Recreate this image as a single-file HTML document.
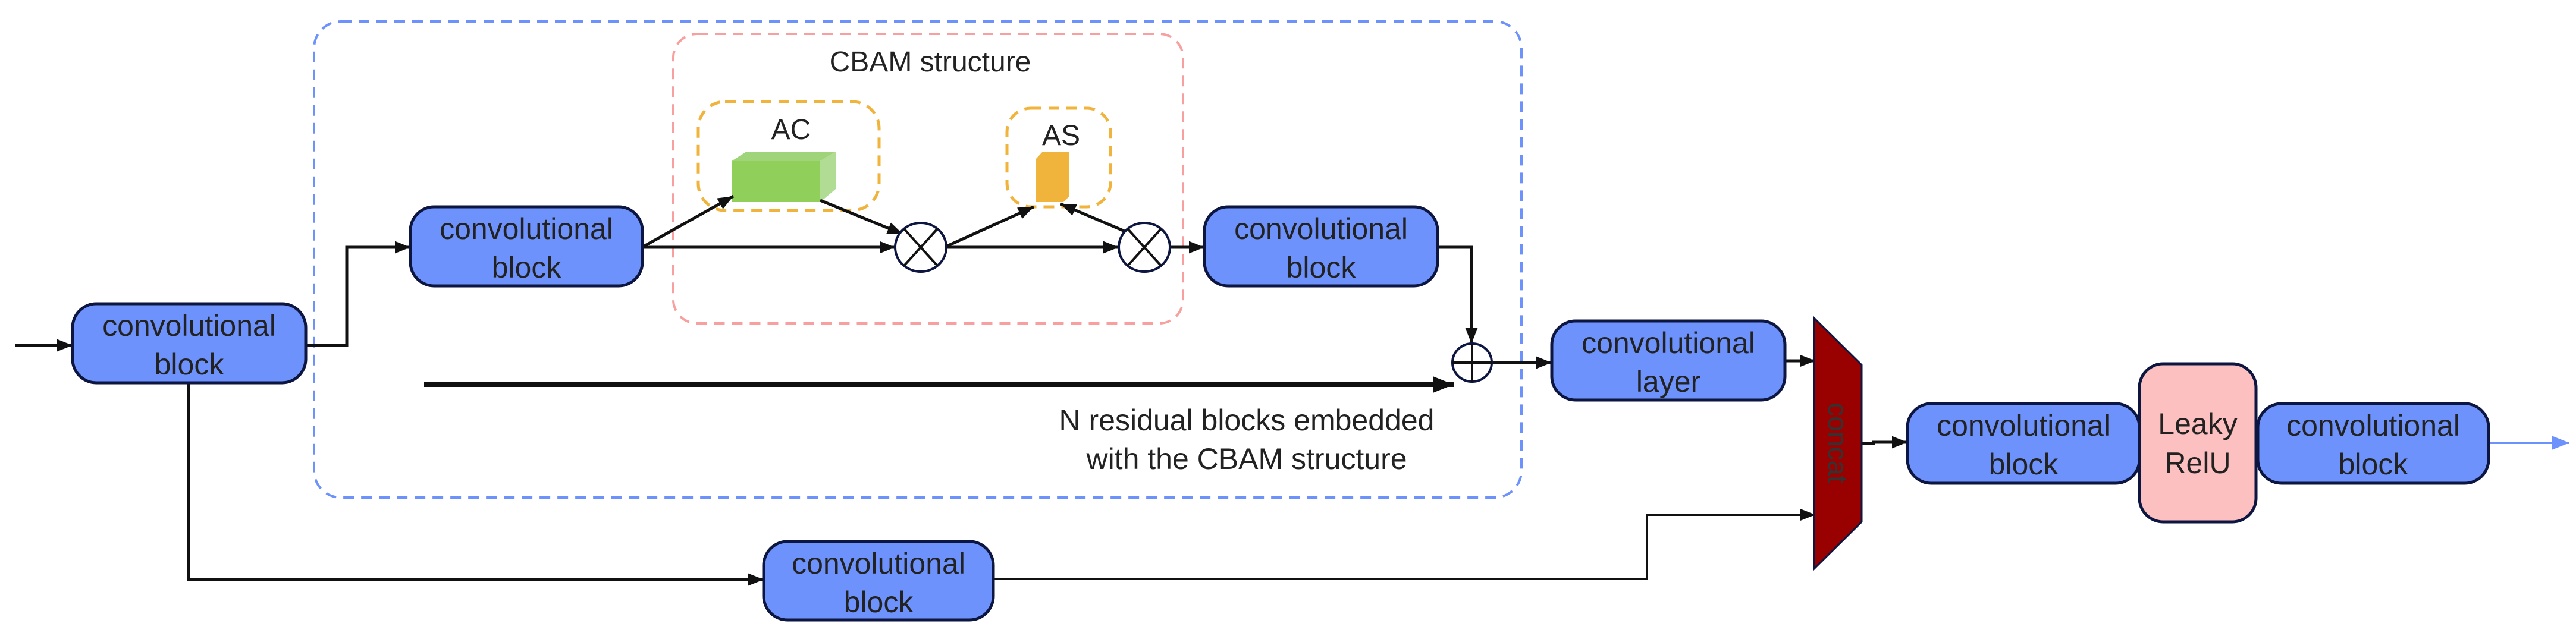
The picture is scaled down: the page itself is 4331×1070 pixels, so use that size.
<!DOCTYPE html>
<html><head><meta charset="utf-8"><style>
html,body{margin:0;padding:0;background:#fff}
svg{display:block}
text{font-family:"Liberation Sans",sans-serif;fill:#222}
</style></head><body>
<svg width="4331" height="1070" viewBox="0 0 4331 1070" xmlns="http://www.w3.org/2000/svg">
<defs>
<marker id="a" viewBox="0 0 10 10" refX="10" refY="5" markerWidth="26" markerHeight="26" markerUnits="userSpaceOnUse" orient="auto"><path d="M0,1 L10,5 L0,9 z" fill="#111"/></marker>
<marker id="ab" viewBox="0 0 10 10" refX="10" refY="5" markerWidth="34" markerHeight="34" markerUnits="userSpaceOnUse" orient="auto"><path d="M0,1 L10,5 L0,9 z" fill="#111"/></marker>
<marker id="ablue" viewBox="0 0 10 10" refX="10" refY="5" markerWidth="30" markerHeight="30" markerUnits="userSpaceOnUse" orient="auto"><path d="M0,1 L10,5 L0,9 z" fill="#6d92fc"/></marker>
</defs>

<rect x="528" y="36" width="2030" height="801" rx="45" fill="none" stroke="#6d92fc" stroke-width="4" stroke-dasharray="18,12"/>
<rect x="1132" y="57" width="857" height="487" rx="40" fill="none" stroke="#f8a0a0" stroke-width="4" stroke-dasharray="18,12"/>
<rect x="1174" y="171" width="304" height="183" rx="45" fill="none" stroke="#f0b33c" stroke-width="5" stroke-dasharray="18,12"/>
<rect x="1693" y="182" width="174" height="166" rx="40" fill="none" stroke="#f0b33c" stroke-width="5" stroke-dasharray="18,12"/>

<text x="1564" y="120" font-size="48" text-anchor="middle">CBAM structure</text>
<text x="1330" y="234" font-size="48" text-anchor="middle">AC</text>
<text x="1784" y="244" font-size="48" text-anchor="middle">AS</text>

<polygon points="1230,271 1255,255 1405,255 1379,271" fill="#a0d47a"/>
<polygon points="1379,271 1405,255 1405,318 1379,340" fill="#b0dc94"/>
<rect x="1230" y="271" width="149" height="69" fill="#8fcf5a"/>
<polygon points="1753,255 1798,255 1798,330 1788,340 1742,340 1742,267" fill="#f0b33c"/>

<g stroke="#111" stroke-width="5" fill="none">
<line x1="25" y1="581" x2="122" y2="581" marker-end="url(#a)"/>
<polyline points="514,581 583,581 583,416 690,416" marker-end="url(#a)"/>
<line x1="1080" y1="416" x2="1505" y2="416" marker-end="url(#a)"/>
<line x1="1083" y1="414" x2="1233" y2="330" marker-end="url(#a)"/>
<line x1="1379" y1="337" x2="1518" y2="394" marker-end="url(#a)"/>
<line x1="1592" y1="414" x2="1738" y2="348" marker-end="url(#a)"/>
<line x1="1592" y1="416" x2="1881" y2="416" marker-end="url(#a)"/>
<line x1="1898" y1="392" x2="1783" y2="343" marker-end="url(#a)"/>
<line x1="1966" y1="416" x2="2025" y2="416" marker-end="url(#a)"/>
<polyline points="2417,416 2474,416 2474,578" marker-end="url(#a)"/>
<line x1="2508" y1="610" x2="2609" y2="610" marker-end="url(#a)"/>
<line x1="3001" y1="607" x2="3052" y2="607" marker-end="url(#a)"/>
<polyline points="3130,746 3150,746 3150,744 3207,744" marker-end="url(#a)"/>
</g>
<line x1="713" y1="647" x2="2444" y2="647" stroke="#111" stroke-width="8" marker-end="url(#ab)"/>
<g stroke="#111" stroke-width="4" fill="none">
<polyline points="317,644 317,975 1284,975" marker-end="url(#a)"/>
<polyline points="1670,974 2769,974 2769,866 3052,866" marker-end="url(#a)"/>
</g>
<line x1="4184" y1="745" x2="4320" y2="745" stroke="#6d92fc" stroke-width="4" marker-end="url(#ablue)"/>

<g stroke="#0d1640" stroke-width="4" fill="#fff">
<ellipse cx="1548" cy="416" rx="43" ry="41"/>
<ellipse cx="1924" cy="416" rx="43" ry="41"/>
<ellipse cx="2475" cy="610" rx="33" ry="32"/>
</g>
<g stroke="#111" stroke-width="4">
<line x1="1520" y1="385" x2="1576" y2="447"/><line x1="1576" y1="385" x2="1520" y2="447"/>
<line x1="1896" y1="385" x2="1952" y2="447"/><line x1="1952" y1="385" x2="1896" y2="447"/>
<line x1="2442" y1="610" x2="2508" y2="610"/><line x1="2475" y1="578" x2="2475" y2="642"/>
</g>

<g stroke="#0d1640" stroke-width="5" fill="#6d92fc">
<rect x="122" y="511" width="392" height="133" rx="40"/>
<rect x="690" y="348" width="390" height="133" rx="40"/>
<rect x="2025" y="348" width="392" height="133" rx="40"/>
<rect x="2609" y="540" width="392" height="133" rx="40"/>
<rect x="1284" y="911" width="386" height="132" rx="40"/>
<rect x="3207" y="679" width="390" height="134" rx="40"/>
<rect x="3796" y="679" width="388" height="134" rx="40"/>
<rect x="3597" y="612" width="196" height="266" rx="40" fill="#fcc0c0"/>
</g>
<polygon points="3050,535 3130,614 3130,878 3050,957" fill="#990000" stroke="#0d1640" stroke-width="3"/>
<text x="3090" y="745" font-size="46" text-anchor="middle" dominant-baseline="central" transform="rotate(90 3090 745)" style="fill:#333">concat</text>

<g font-size="50" text-anchor="middle">
<text x="318" y="565">convolutional</text><text x="318" y="630">block</text>
<text x="885" y="402">convolutional</text><text x="885" y="467">block</text>
<text x="2221" y="402">convolutional</text><text x="2221" y="467">block</text>
<text x="2805" y="594">convolutional</text><text x="2805" y="659">layer</text>
<text x="1477" y="965">convolutional</text><text x="1477" y="1030">block</text>
<text x="3402" y="733">convolutional</text><text x="3402" y="798">block</text>
<text x="3990" y="733">convolutional</text><text x="3990" y="798">block</text>
<text x="3695" y="730">Leaky</text><text x="3695" y="796">RelU</text>
<text x="2096" y="724">N residual blocks embedded</text>
<text x="2096" y="789">with the CBAM structure</text>
</g>
</svg>
</body></html>
